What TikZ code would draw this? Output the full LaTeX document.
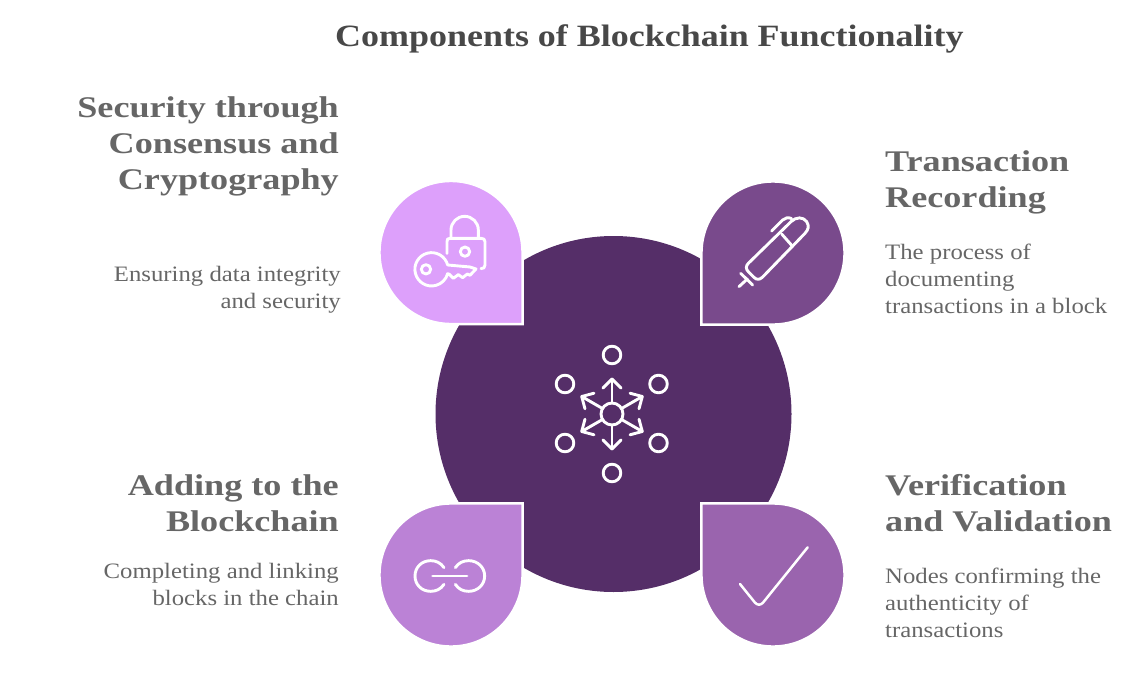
\documentclass[tikz,border=0pt]{standalone}
\usepackage{fontspec}
\setmainfont{Liberation Serif}
\newfontfamily\titlefont[FakeStretch=1.16]{Liberation Serif}
\newfontfamily\headfont[FakeStretch=1.205]{Liberation Serif}
\newfontfamily\bodyfont[FakeStretch=1.125]{Liberation Serif}
\definecolor{core}{HTML}{552E68}
\definecolor{lilac}{HTML}{DDA0FB}
\definecolor{plum}{HTML}{794A8C}
\definecolor{orchid}{HTML}{BB82D6}
\definecolor{violetm}{HTML}{9A64AE}
\definecolor{headgray}{HTML}{666666}
\definecolor{titlegray}{HTML}{484848}
\tikzset{
 droplet/.style={fill=#1,draw=white,line width=2.6pt},
 iconline/.style={draw=white,line width=2.9pt,line cap=round,line join=round},
 headtext/.style={font=\headfont\fontsize{30}{36}\selectfont\bfseries,text=headgray,inner sep=0pt},
 bodytext/.style={font=\bodyfont\fontsize{22}{27}\selectfont,text=headgray,inner sep=0pt},
 titletext/.style={font=\titlefont\fontsize{31}{36}\selectfont\bfseries,text=titlegray,inner sep=0pt},
}
\begin{document}
\begin{tikzpicture}[x=1pt,y=-1pt]
\useasboundingbox (0,0) rectangle (1135,674);
\fill[core] (613.5,414) circle (178);
% droplets
\path[droplet=lilac] (522.6,252.5) arc (0:-270:71.6) -- (522.6,324.1) -- cycle;
\path[droplet=plum] (773,324.6) arc (90:-180:71.6) -- (701.4,324.6) -- cycle;
\path[droplet=orchid] (451,503.4) arc (-90:-360:71.6) -- (522.6,503.4) -- cycle;
\path[droplet=violetm] (701.4,575) arc (180:-90:71.6) -- (701.4,503.4) -- cycle;
% hub icon
\draw[iconline] (612,414) circle (11);
\foreach \cx/\cy in {612/355,612/473,565/384,658.5/384,565/443,658.5/443}
  \draw[iconline] (\cx,\cy) circle (8.8);
\foreach \ang in {-90,-30,30,90,150,210}{
  \begin{scope}[shift={(612,414)},rotate=\ang]
    \draw[iconline] (11,0) -- (35,0);
    \draw[iconline] (26,-9) -- (35,0) -- (26,9);
  \end{scope}}
% lock and key
\begin{scope}[shift={(370,170)},x=0.3333pt,y=-0.3333pt]
  \draw[iconline] (243,205) -- (243,180) arc (180:360:41) -- (325,205);
  \draw[iconline] (231,250) -- (231,215) .. controls (231,208) and (233,205) .. (240,205) -- (333,205) .. controls (341,205) and (345,208) .. (345,215) -- (345,285) .. controls (345,293) and (341,296) .. (333,296);
  \draw[iconline] (285,245) circle (14);
  \draw[iconline] (168,298) circle (14);
  \draw[iconline] (233,285) arc (-15:-345:50) -- (238,313) -- (250,325) -- (265,314) -- (278,323) -- (292,312) -- (300,316) -- (318,297) -- (300,291) -- (233,285);
\end{scope}
% pen
\begin{scope}[shift={(690,170)},x=0.3333pt,y=-0.3333pt]
  \draw[iconline] (147,350) -- (172,327);
  \draw[iconline] (152,310) -- (188,345);
  \draw[iconline] (303,155) .. controls (318,140) and (340,140) .. (350,155) .. controls (358,168) and (356,178) .. (345,190) -- (217,322) .. controls (208,330) and (200,330) .. (192,322) -- (175,305) .. controls (167,297) and (167,288) .. (175,280) -- (303,155);
  \draw[iconline] (275,192) -- (305,226);
  \draw[iconline] (245,183) -- (278,150) .. controls (285,143) and (295,141) .. (305,146);
\end{scope}
% link
\begin{scope}[shift={(370,490)},x=0.3333pt,y=-0.3333pt]
  \draw[iconline] (222,233) .. controls (212,218) and (198,212) .. (182,212) .. controls (155,212) and (135,232) .. (135,258) .. controls (135,284) and (155,304) .. (182,304) .. controls (198,304) and (212,298) .. (222,283);
  \draw[iconline] (256,233) .. controls (266,218) and (280,212) .. (296,212) .. controls (323,212) and (344,232) .. (344,258) .. controls (344,284) and (323,304) .. (296,304) .. controls (280,304) and (266,298) .. (256,283);
  \draw[iconline] (188,258) -- (291,258);
\end{scope}
% check
\begin{scope}[shift={(690,490)},x=0.3333pt,y=-0.3333pt]
  \draw[iconline,line width=2.5pt] (150,282) -- (195,338) .. controls (202,346) and (212,346) .. (219,338) -- (353,172);
\end{scope}
% text
\node[titletext,anchor=base west] (title) at (335,47) {Components of Blockchain Functionality};
\node[headtext,anchor=north east,align=right] (h1) at (339,96) {Security through\\Consensus and\\Cryptography};
\node[bodytext,anchor=north east,align=right] (b1) at (341,266) {Ensuring data integrity\\and security};
\node[headtext,anchor=north west,align=left] (h2) at (885,150) {Transaction\\Recording};
\node[bodytext,anchor=north west,align=left] (b2) at (885,243.5) {The process of\\documenting\\transactions in a block};
\node[headtext,anchor=north east,align=right] (h3) at (339,474.5) {Adding to the\\Blockchain};
\node[bodytext,anchor=north east,align=right] (b3) at (339,563.5) {Completing and linking\\blocks in the chain};
\node[headtext,anchor=north west,align=left] (h4) at (885,474.5) {Verification\\and Validation};
\node[bodytext,anchor=north west,align=left] (b4) at (885,567.5) {Nodes confirming the\\authenticity of\\transactions};
\end{tikzpicture}
\end{document}
